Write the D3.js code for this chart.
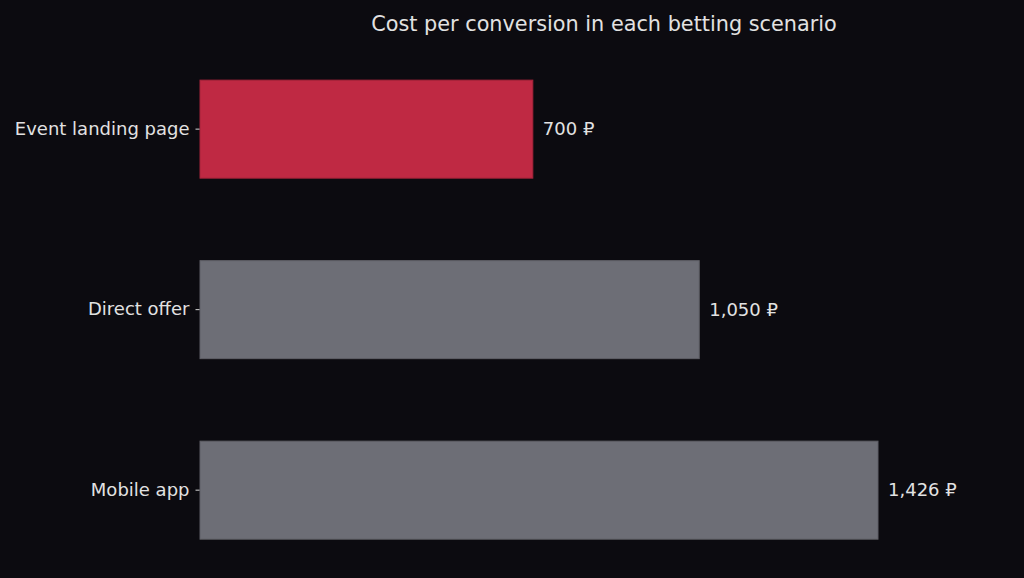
<!DOCTYPE html>
<html>
<head>
<meta charset="utf-8">
<script src="https://cdn.jsdelivr.net/npm/d3@7"></script>
<style>
  html, body { margin: 0; padding: 0; background: #0c0b10; }
  svg { display: block; font-family: "DejaVu Sans", sans-serif; }
</style>
</head>
<body>
<div class="mainChart"></div>
<script>
const categories = ['Event landing page', 'Direct offer', 'Mobile app'];
const costs = [700, 1050, 1426];
const barColors = ['#bf2943', '#6d6e76', '#6d6e76'];
const chartTitle = 'Cost per conversion in each betting scenario';

const width = 1024;
const height = 578;
const left = 200;

const svg = d3.select('.mainChart').append('svg')
  .attr('width', width)
  .attr('height', height)
  .style('background', '#0c0b10');

// 700 -> 333px wide bar
let xScale = d3.scaleLinear()
  .domain([0, 1426])
  .range([left, 878]);

let yScale = d3.scaleBand()
  .domain(categories)
  .range([35, 584.3])
  .paddingInner(0.457)
  .paddingOuter(0.25);

svg.append('text')
  .attr('x', 604)
  .attr('y', 31)
  .attr('text-anchor', 'middle')
  .style('fill', '#e2e2e2')
  .style('font-size', '20.8px')
  .text(chartTitle);

svg.selectAll('rect.bar')
  .data(costs)
  .enter().append('rect')
    .attr('class', 'bar')
    .attr('x', xScale(0))
    .attr('y', (d, i) => yScale(categories[i]))
    .attr('width', d => xScale(d) - xScale(0))
    .attr('height', yScale.bandwidth())
    .style('fill', (d, i) => barColors[i])
    .style('stroke', (d, i) => d3.color(barColors[i]).darker(0.4))
    .style('stroke-width', 1);

svg.selectAll('text.value')
  .data(costs)
  .enter().append('text')
    .attr('class', 'value')
    .attr('x', d => xScale(d) + 10)
    .attr('y', (d, i) => yScale(categories[i]) + yScale.bandwidth() / 2)
    .attr('dy', '0.35em')
    .style('fill', '#e2e2e2')
    .style('font-size', '18px')
    .text(d => d3.format(',')(d) + ' \u20BD');

let yAxis = d3.axisLeft(yScale)
  .tickSize(4)
  .tickPadding(6);

let axisG = svg.append('g')
  .attr('transform', 'translate(' + (left - 0.5) + ',0)')
  .call(yAxis);
axisG.select('.domain').remove();
axisG.selectAll('line').style('stroke', '#d8d8d8');
axisG.selectAll('text')
  .style('fill', '#e2e2e2')
  .style('font-size', '18px')
  .style('font-family', '"DejaVu Sans", sans-serif');
</script>
</body>
</html>
